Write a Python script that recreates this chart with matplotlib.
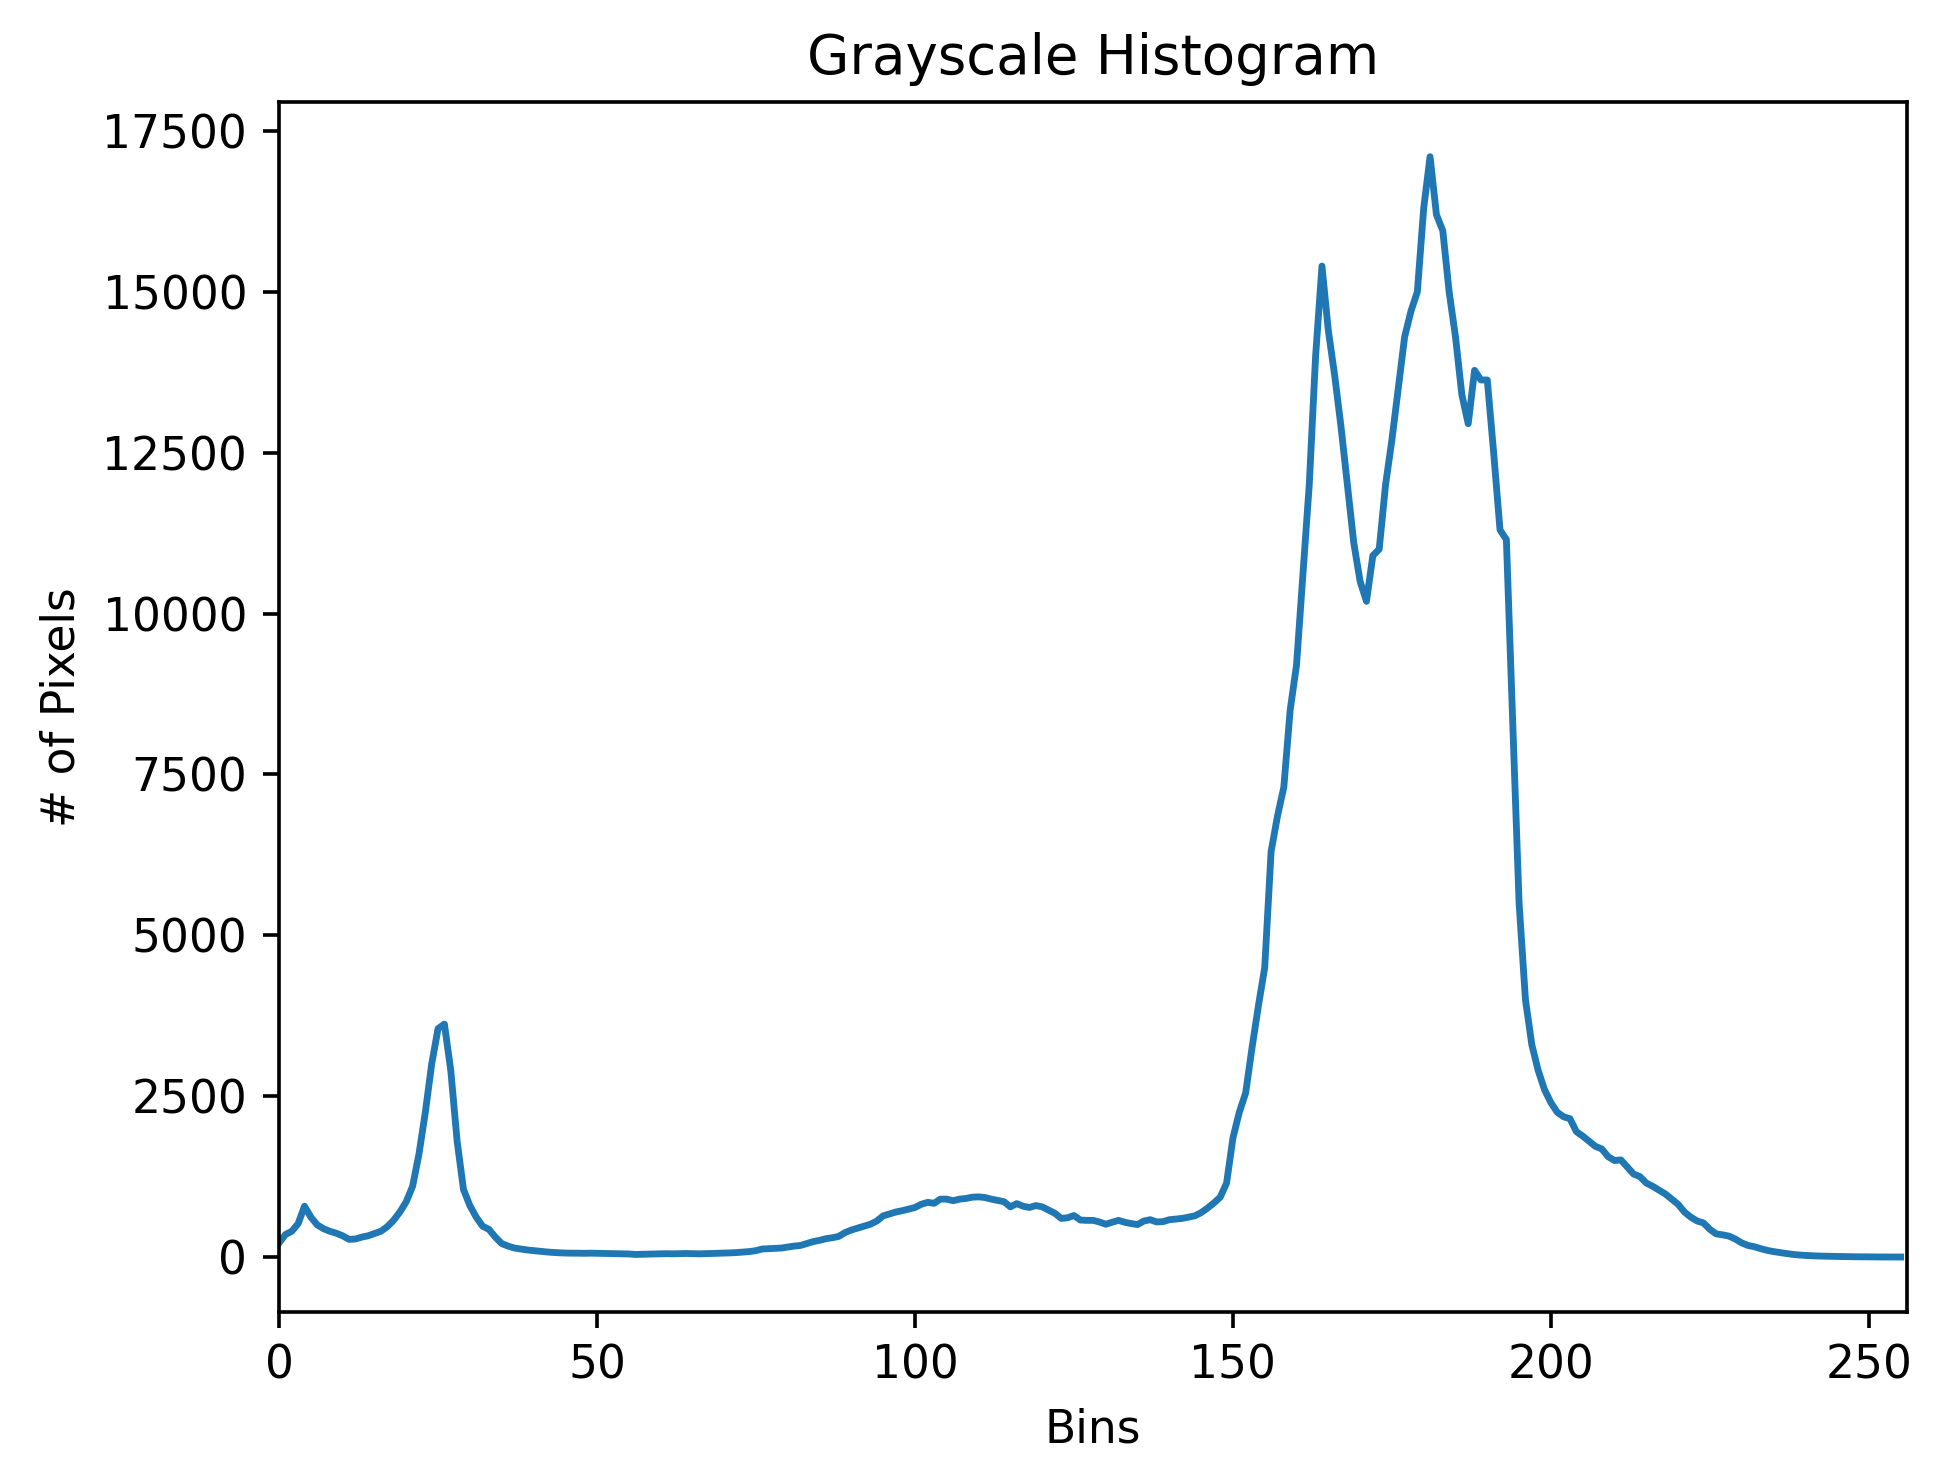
import numpy as np
import matplotlib
matplotlib.use("Agg")
import matplotlib.pyplot as plt

# grayscale histogram counts, one value per bin (0..255)
hist_0_49 = [220, 350, 400, 520, 790, 620, 500, 440, 400, 370,
             330, 275, 280, 310, 330, 365, 400, 470, 570, 700,
             860, 1100, 1600, 2250, 3000, 3550, 3620, 2900, 1800, 1050,
             800, 620, 480, 430, 310, 210, 170, 140, 125, 110,
             100, 90, 80, 72, 66, 62, 60, 60, 58, 60]
hist_50_99 = [58, 55, 55, 52, 50, 48, 40, 42, 45, 48,
              50, 52, 50, 52, 55, 52, 50, 52, 55, 58,
              60, 65, 70, 78, 85, 100, 125, 130, 135, 140,
              155, 170, 180, 210, 240, 260, 285, 300, 320, 380,
              420, 450, 480, 510, 560, 640, 670, 700, 720, 745]
hist_100_149 = [770, 820, 850, 835, 900, 900, 875, 900, 910, 930,
                935, 925, 900, 880, 860, 780, 830, 790, 770, 800,
                780, 730, 680, 600, 610, 645, 575, 570, 570, 545,
                510, 540, 570, 540, 520, 505, 560, 580, 545, 550,
                580, 590, 600, 620, 640, 690, 760, 840, 930, 1150]
hist_150_199 = [1850, 2250, 2550, 3250, 3900, 4500, 6300, 6850, 7300, 8500,
                9200, 10600, 12000, 14000, 15400, 14400, 13700, 12900, 12000, 11100,
                10500, 10190, 10900, 11000, 12000, 12700, 13500, 14300, 14700, 15000,
                16300, 17100, 16200, 15950, 15000, 14300, 13400, 12950, 13780, 13630,
                13630, 12500, 11300, 11150, 8300, 5500, 4000, 3300, 2900, 2600]
hist_200_255 = [2400, 2250, 2180, 2150, 1950, 1880, 1800, 1720, 1680, 1560,
                1500, 1510, 1400, 1290, 1250, 1150, 1100, 1040, 980, 900,
                820, 700, 620, 560, 530, 430, 360, 345, 325, 280,
                220, 180, 160, 130, 104, 85, 70, 55, 42, 32,
                25, 20, 16, 13, 11, 9, 7, 5, 4, 3,
                2, 2, 1, 1, 1, 0]

hist = hist_0_49 + hist_50_99 + hist_100_149 + hist_150_199 + hist_200_255
bins = np.arange(len(hist))

fig = plt.figure(figsize=(1938 / 328, 1465 / 328), dpi=328)
fig.subplots_adjust(left=0.144, right=0.984, bottom=0.1044, top=0.9306)

plt.title("Grayscale Histogram")
plt.xlabel("Bins")
plt.ylabel("# of Pixels")
plt.plot(bins, hist)
plt.xlim([0, 256])

plt.savefig("out.png", dpi=328)
